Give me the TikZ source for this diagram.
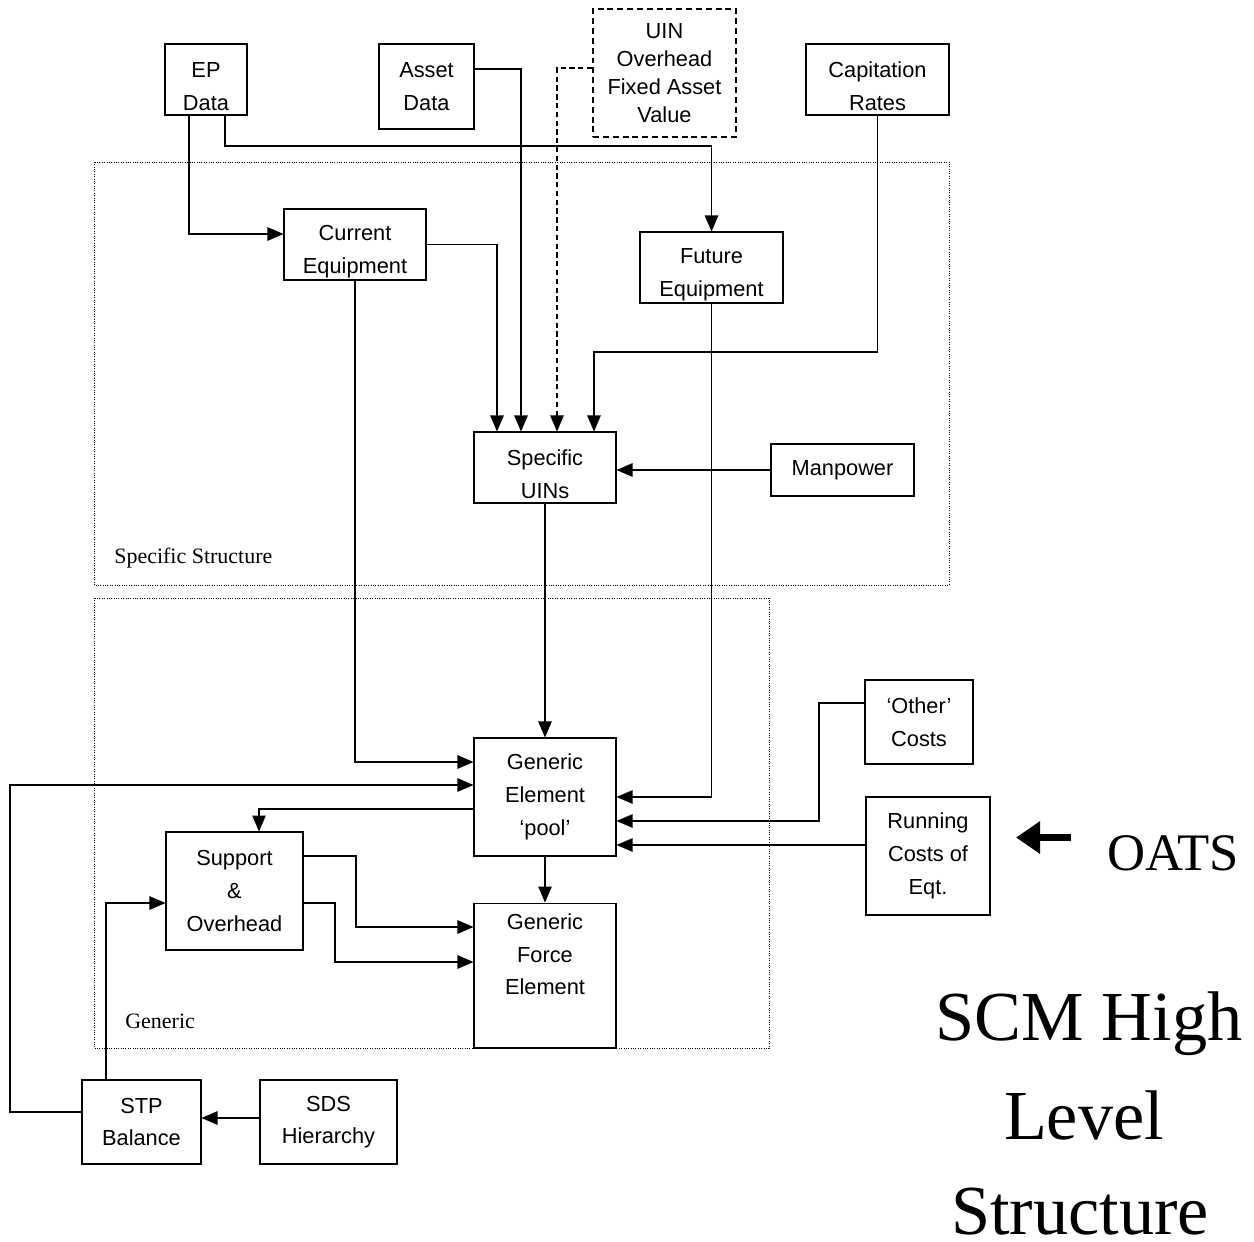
\documentclass[tikz,border=0pt]{standalone}
\usepackage{fontspec}
\setmainfont{Liberation Sans}
\newfontfamily\serifface{Liberation Serif}
\usetikzlibrary{arrows.meta}
\newcommand\boxtext{\fontsize{12.4pt}{18.6pt}\selectfont}
\newcommand\uintext{\fontsize{12.4pt}{15.8pt}\selectfont}
% taller first line, so that short boxes carry their text a little lower
\newcommand\lowtop{\rule{0pt}{16.5pt}}
\begin{document}
\begin{tikzpicture}[x=0.02cm,y=-0.02cm,
  box/.style={draw,line width=0.6pt,align=center,inner sep=0pt,font=\boxtext},
  dbox/.style={box,line width=0.9pt,dash pattern=on 3.4pt off 2.2pt,font=\uintext},
  region/.style={line width=0.4pt,dash pattern=on 0.45pt off 0.9pt},
  arr/.style={line width=0.6pt,-{Triangle[length=0.32cm,width=0.27cm]}},
  darr/.style={arr,dash pattern=on 3pt off 2pt},
  lbl/.style={font=\serifface\fontsize{12.5pt}{15pt}\selectfont,inner sep=0pt},
  title/.style={font=\serifface\fontsize{40pt}{56pt}\selectfont,inner sep=0pt,anchor=base,text depth=0pt}]
\useasboundingbox (0,0) rectangle (1254,1241);

% dotted regions
\draw[region] (94,162) rectangle (949,585);
\draw[region] (94,598) rectangle (769,1048);
\node[lbl,anchor=west] (lspec) at (114,558) {Specific Structure};
\node[lbl,anchor=west] (lgen) at (125,1021) {Generic};

% boxes
\node[box,minimum width=1.64cm,minimum height=1.42cm] (ep) at (206,79.5) {\lowtop EP\\Data};
\node[box,minimum width=1.90cm,minimum height=1.70cm] (asset) at (426.5,86.5) {Asset\\Data};
\node[dbox,minimum width=2.86cm,minimum height=2.56cm] (uin) at (664.5,73) {UIN\\Overhead\\Fixed Asset\\Value};
\node[box,minimum width=2.86cm,minimum height=1.42cm] (cap) at (877.5,79.5) {\lowtop Capitation\\Rates};
\node[box,minimum width=2.84cm,minimum height=1.42cm] (cur) at (355,244.5) {\lowtop Current\\Equipment};
\node[box,minimum width=2.86cm,minimum height=1.42cm] (fut) at (711.5,267.5) {\lowtop Future\\Equipment};
\node[box,minimum width=2.84cm,minimum height=1.42cm] (sp) at (545,467.5) {\lowtop Specific\\UINs};
\node[box,minimum width=2.86cm,minimum height=1.04cm] (man) at (842.5,470) {Manpower};
\node[box,minimum width=2.84cm,minimum height=2.36cm] (ge) at (545,797) {Generic\\Element\\‘pool’};
\node[box,minimum width=2.16cm,minimum height=1.68cm] (oth) at (919,722) {‘Other’\\Costs};
\node[box,minimum width=2.48cm,minimum height=2.36cm] (run) at (928,856) {Running\\Costs of\\Eqt.};
\node[box,minimum width=2.74cm,minimum height=2.36cm] (sup) at (234.5,891) {Support\\\&\\Overhead};
\node[box,minimum width=2.84cm,minimum height=2.90cm] (gfe) at (545,975.5) {Generic\\Force\\Element\\\strut};
\node[box,minimum width=2.38cm,minimum height=1.68cm] (stp) at (141.5,1122) {STP\\Balance};
\node[box,minimum width=2.74cm,minimum height=1.68cm] (sds) at (328.5,1122) {SDS\\Hierarchy};

% connectors, upper part
\draw[arr] (ep.south -| 189,0) |- (cur.west |- 0,234);
\draw[arr] (ep.south -| 225,0) -- (225,146) -| (fut.north);
\draw[arr] (asset.east |- 0,69) -| (sp.north -| 521,0);
\draw[darr] (uin.west |- 0,68) -| (sp.north -| 557,0);
\draw[arr] (cur.east) -| (sp.north -| 497,0);
\draw[arr] (cap.south) -- (cap.south |- 0,352) -| (sp.north -| 594,0);
\draw[arr] (man.west) -- (sp.east |- man.west);
\draw[arr] (sp.south) -- (ge.north);

% connectors into the generic element pool
\coordinate (loop) at (10,785);
\draw[arr] (cur.south) |- (ge.west |- 0,762);
\draw[arr] (stp.west |- 0,1112) -| (loop) -- (ge.west |- loop);
\draw[arr] (ge.west |- 0,809) -| (sup.north -| 259,0);
\draw[arr] (fut.south) |- (ge.east |- 0,797);
\draw[arr] (oth.west |- 0,703) -| (819,821) -- (ge.east |- 0,821);
\draw[arr] (run.west |- 0,845) -- (ge.east |- 0,845);
\draw[arr] (ge.south) -- (gfe.north);

% support, force element and balance
\draw[arr] (sup.east |- 0,856) -| (356,927) -- (gfe.west |- 0,927);
\draw[arr] (sup.east |- 0,903) -| (335,962) -- (gfe.west |- 0,962);
\draw[arr] (stp.north -| 106,0) |- (sup.west |- 0,903);
\draw[arr] (sds.west |- 0,1118) -- (stp.east |- 0,1118);

% OATS pointer and title
\node[font=\serifface\fontsize{30pt}{34pt}\selectfont,inner sep=0pt,anchor=base west] (oats) at (1107,870) {OATS};
\coordinate (oatstail) at (1071,837.5);
\draw[line width=4pt,-{Triangle[length=0.48cm,width=0.62cm]}] (oatstail) -- (1016,837.5);
\node[title] (t1) at (1089,1040) {SCM High};
\node[title] (t2) at (1084,1139) {Level};
\node[title] (t3) at (1080,1234) {Structure};
\end{tikzpicture}
\end{document}
